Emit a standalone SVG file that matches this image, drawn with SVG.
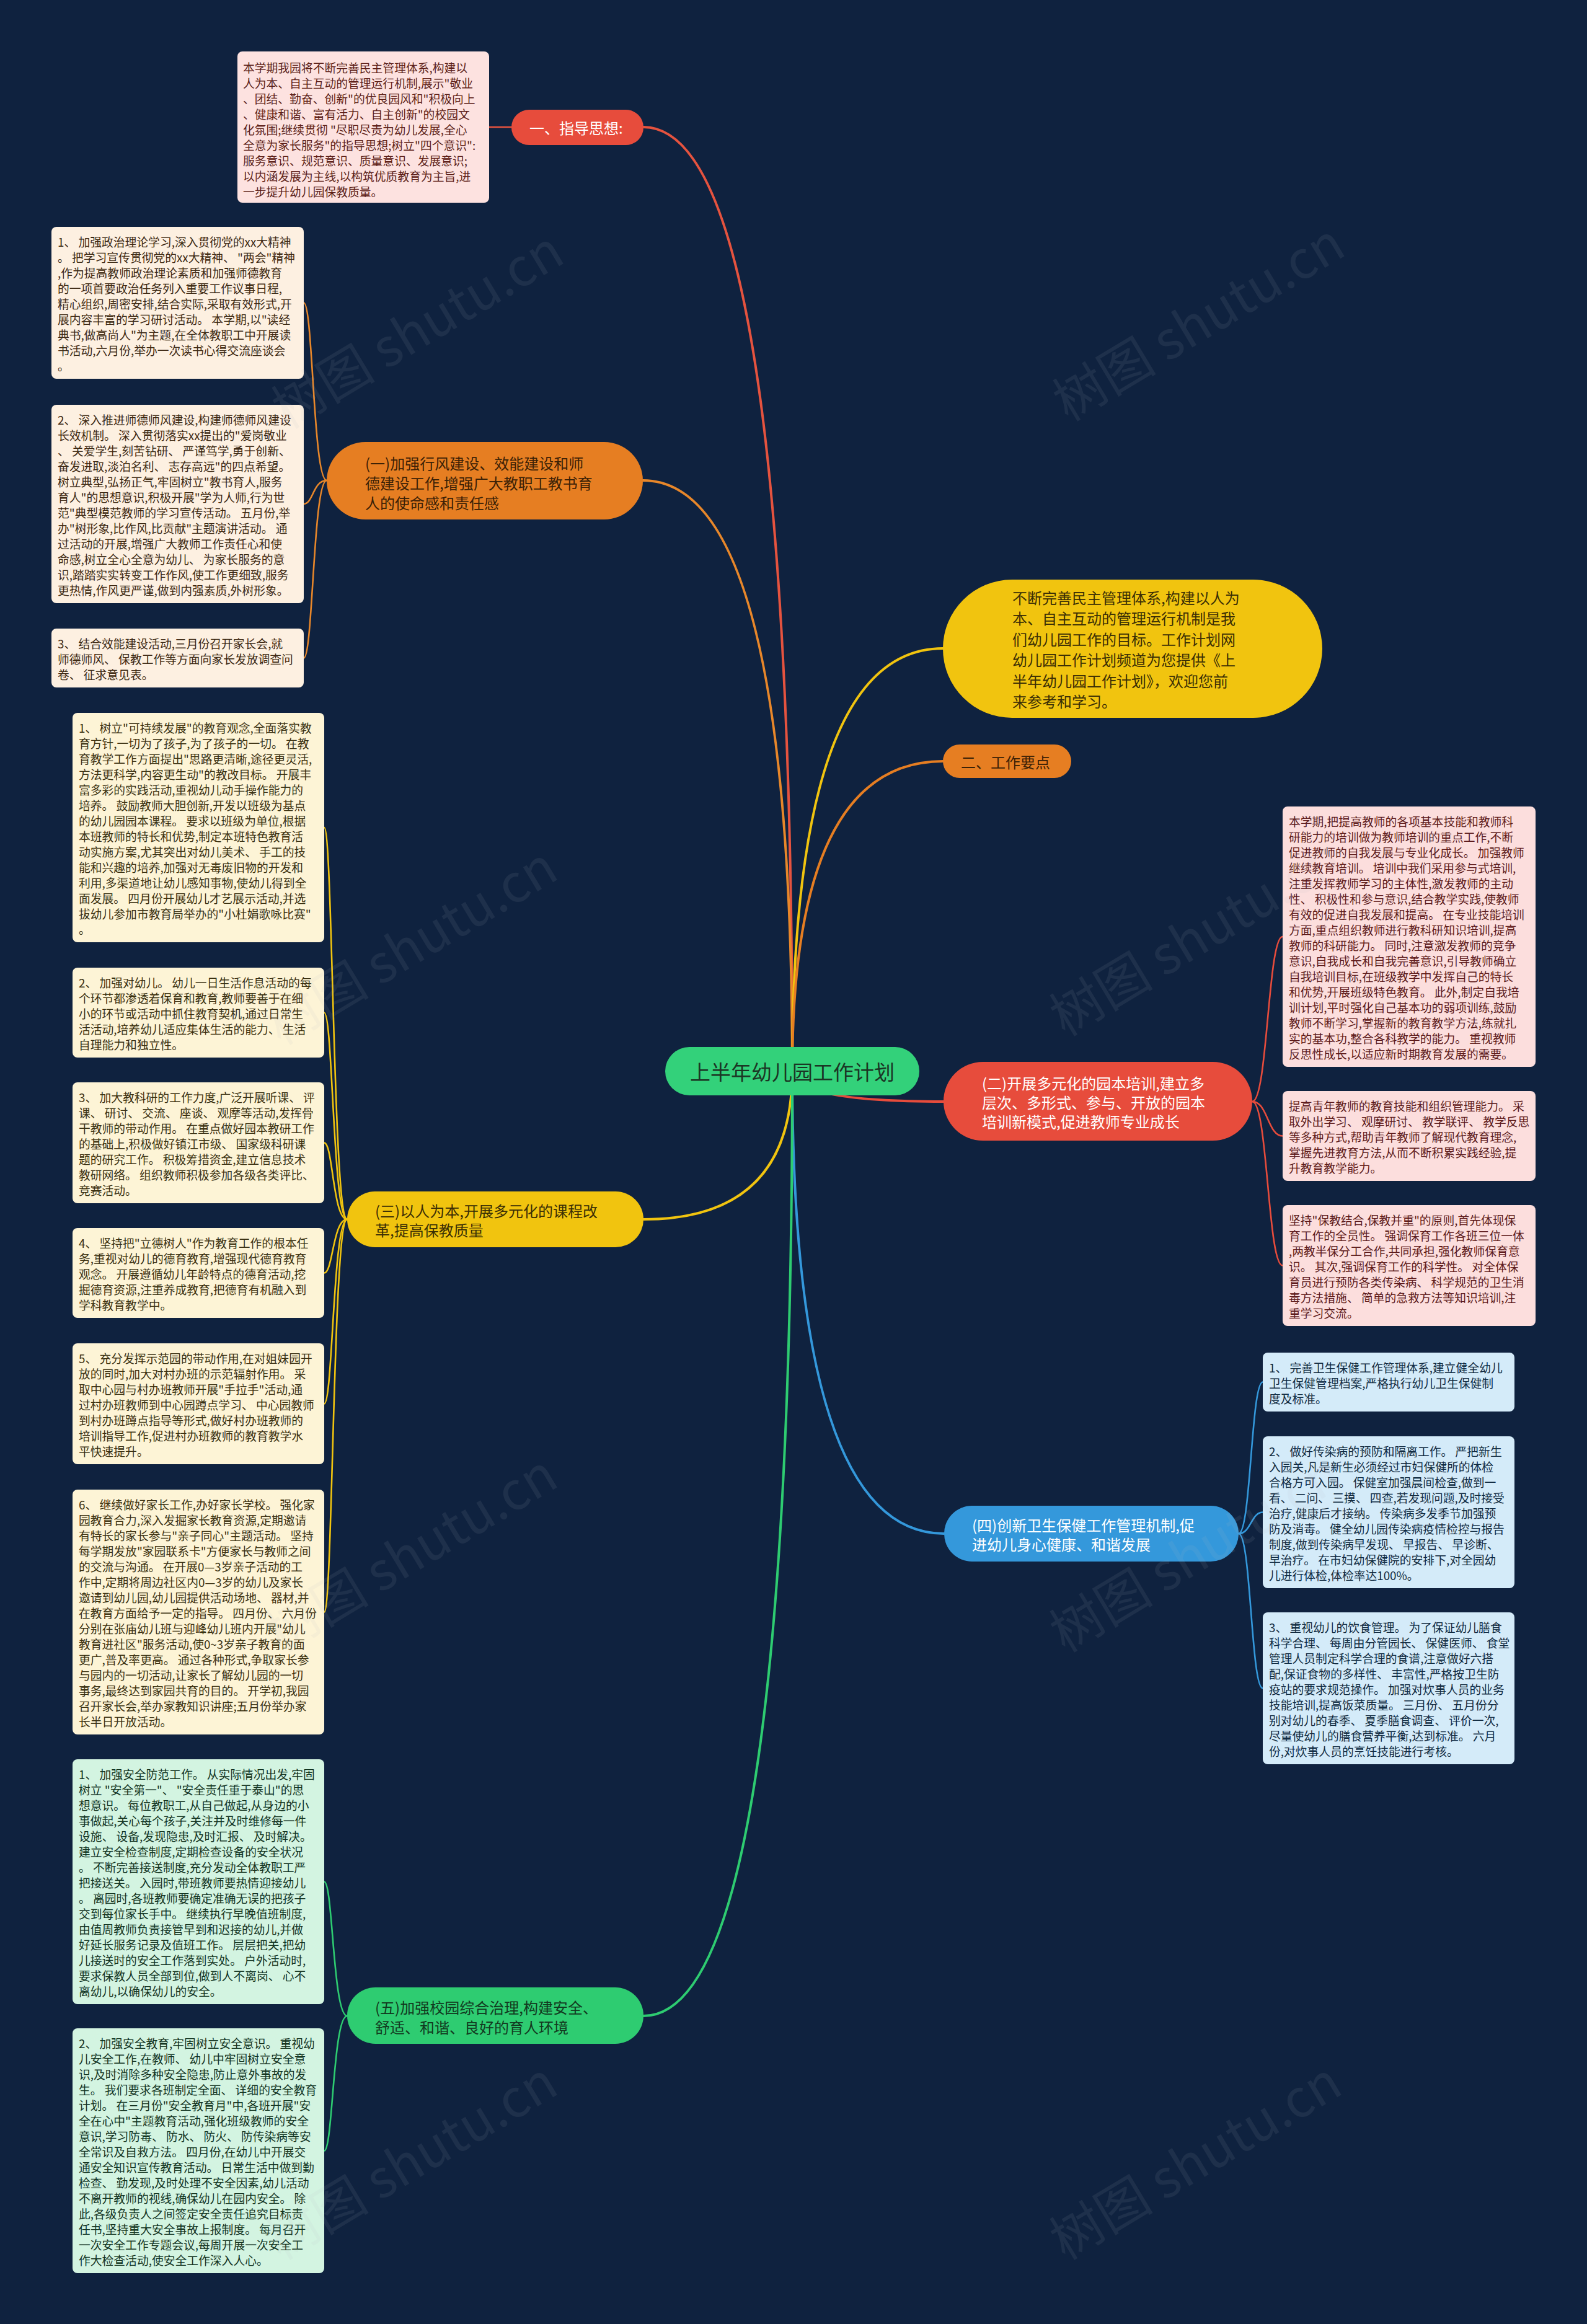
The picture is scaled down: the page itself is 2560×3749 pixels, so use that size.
<svg xmlns="http://www.w3.org/2000/svg" width="2560" height="3749" viewBox="0 0 2560 3749">
<style>
text{font-family:"Noto Sans CJK SC","Noto Sans",sans-serif;dominant-baseline:central}
.lf{font-size:18.8px}
.nd{font-size:24px}
.rt{font-size:33px}
.ln{fill:none;stroke-linecap:round}
.main{stroke-width:4}
.sub{stroke-width:2.6}
.wm{font-size:84px;fill:#b8bcc4;opacity:0.09}
</style>
<rect x="0" y="0" width="2560" height="3749" fill="#0f223f"/>

<g id="connectors">
  <path class="ln main" stroke="#e5533f" d="M1278 1728 Q1278 205 1038 205"/>
  <path class="ln main" stroke="#e8872a" d="M1278 1728 Q1278 775 1037 775"/>
  <path class="ln main" stroke="#f1c40f" d="M1278 1728 Q1278 1046 1521 1046"/>
  <path class="ln main" stroke="#e67e22" d="M1278 1728 Q1278 1228 1521 1228"/>
  <path class="ln main" stroke="#e74c3c" d="M1278 1728 Q1278 1777 1522 1777"/>
  <path class="ln main" stroke="#f1c40f" d="M1278 1728 Q1278 1967 1038 1967"/>
  <path class="ln main" stroke="#3498db" d="M1278 1728 Q1278 2474 1523 2474"/>
  <path class="ln main" stroke="#2ecc71" d="M1278 1728 Q1278 3252 1038 3252"/>

  <path class="ln sub" stroke="#e5533f" d="M825 205 L789 205"/>

  <path class="ln sub" stroke="#e8872a" d="M527 775 C505 775 505 488.5 490 488.5"/>
  <path class="ln sub" stroke="#e8872a" d="M527 775 C505 775 505 813 490 813"/>
  <path class="ln sub" stroke="#e8872a" d="M527 775 C505 775 505 1061.5 490 1061.5"/>

  <path class="ln sub" stroke="#e74c3c" d="M2020 1777 C2045 1777 2045 1511 2069 1511"/>
  <path class="ln sub" stroke="#e74c3c" d="M2020 1777 C2045 1777 2045 1832.5 2069 1832.5"/>
  <path class="ln sub" stroke="#e74c3c" d="M2020 1777 C2045 1777 2045 2041.5 2069 2041.5"/>

  <path class="ln sub" stroke="#f1c40f" d="M560 1967 C537 1967 537 1335 523 1335"/>
  <path class="ln sub" stroke="#f1c40f" d="M560 1967 C537 1967 537 1633.5 523 1633.5"/>
  <path class="ln sub" stroke="#f1c40f" d="M560 1967 C537 1967 537 1843.5 523 1843.5"/>
  <path class="ln sub" stroke="#f1c40f" d="M560 1967 C537 1967 537 2053.5 523 2053.5"/>
  <path class="ln sub" stroke="#f1c40f" d="M560 1967 C537 1967 537 2264.5 523 2264.5"/>
  <path class="ln sub" stroke="#f1c40f" d="M560 1967 C537 1967 537 2600.5 523 2600.5"/>

  <path class="ln sub" stroke="#3498db" d="M1998 2474 C2018 2474 2018 2229.5 2037 2229.5"/>
  <path class="ln sub" stroke="#3498db" d="M1998 2474 C2018 2474 2018 2439.5 2037 2439.5"/>
  <path class="ln sub" stroke="#3498db" d="M1998 2474 C2018 2474 2018 2723.5 2037 2723.5"/>

  <path class="ln sub" stroke="#2ecc71" d="M560 3252 C537 3252 537 3035.5 523 3035.5"/>
  <path class="ln sub" stroke="#2ecc71" d="M560 3252 C537 3252 537 3469.5 523 3469.5"/>
</g>

<g id="root">
  <rect x="1073" y="1689" width="410" height="78" rx="39" fill="#33d17a"/>
  <text class="rt" x="1278" y="1728" text-anchor="middle" fill="#1b3524">上半年幼儿园工作计划</text>
</g>

<g id="n-yi-zhidao">
  <rect x="825" y="177" width="213" height="57" rx="28.5" fill="#e74c3c"/>
  <text class="nd" x="854" y="205.5" fill="#ffffff">一、指导思想:</text>
</g>
<g id="leaf-zhidao">
  <rect x="383" y="83" width="406" height="244" rx="8" fill="#fde2e0"/>
  <text class="lf" x="392" y="108" fill="#5c1e17">
    <tspan x="392" dy="0">本学期我园将不断完善民主管理体系,构建以</tspan>
    <tspan x="392" dy="25">人为本、自主互动的管理运行机制,展示"敬业</tspan>
    <tspan x="392" dy="25">、团结、勤奋、创新"的优良园风和"积极向上</tspan>
    <tspan x="392" dy="25">、健康和谐、富有活力、自主创新"的校园文</tspan>
    <tspan x="392" dy="25">化氛围;继续贯彻 "尽职尽责为幼儿发展,全心</tspan>
    <tspan x="392" dy="25">全意为家长服务"的指导思想;树立"四个意识":</tspan>
    <tspan x="392" dy="25">服务意识、规范意识、质量意识、发展意识;</tspan>
    <tspan x="392" dy="25">以内涵发展为主线,以构筑优质教育为主旨,进</tspan>
    <tspan x="392" dy="25">一步提升幼儿园保教质量。</tspan>
  </text>
</g>

<g id="n-yi">
  <rect x="527" y="713" width="510" height="125" rx="62.5" fill="#e67e22"/>
  <text class="nd" x="589" y="746" fill="#3b2106">
    <tspan x="589" dy="0">(一)加强行风建设、效能建设和师</tspan>
    <tspan x="589" dy="32">德建设工作,增强广大教职工教书育</tspan>
    <tspan x="589" dy="32">人的使命感和责任感</tspan>
  </text>
</g>
<g id="leaf-yi-1">
  <rect x="83" y="366" width="407" height="245" rx="8" fill="#fdf0e1"/>
  <text class="lf" x="93" y="388.5" fill="#3c2812">
    <tspan x="93" dy="0">1、 加强政治理论学习,深入贯彻党的xx大精神</tspan>
    <tspan x="93" dy="25">。 把学习宣传贯彻党的xx大精神、 "两会"精神</tspan>
    <tspan x="93" dy="25">,作为提高教师政治理论素质和加强师德教育</tspan>
    <tspan x="93" dy="25">的一项首要政治任务列入重要工作议事日程,</tspan>
    <tspan x="93" dy="25">精心组织,周密安排,结合实际,采取有效形式,开</tspan>
    <tspan x="93" dy="25">展内容丰富的学习研讨活动。 本学期,以"读经</tspan>
    <tspan x="93" dy="25">典书,做高尚人"为主题,在全体教职工中开展读</tspan>
    <tspan x="93" dy="25">书活动,六月份,举办一次读书心得交流座谈会</tspan>
    <tspan x="93" dy="25">。</tspan>
  </text>
</g>
<g id="leaf-yi-2">
  <rect x="83" y="653" width="407" height="320" rx="8" fill="#fdf0e1"/>
  <text class="lf" x="93" y="675.5" fill="#3c2812">
    <tspan x="93" dy="0">2、 深入推进师德师风建设,构建师德师风建设</tspan>
    <tspan x="93" dy="25">长效机制。 深入贯彻落实xx提出的"爱岗敬业</tspan>
    <tspan x="93" dy="25">、 关爱学生,刻苦钻研、 严谨笃学,勇于创新、</tspan>
    <tspan x="93" dy="25">奋发进取,淡泊名利、 志存高远"的四点希望。</tspan>
    <tspan x="93" dy="25">树立典型,弘扬正气,牢固树立"教书育人,服务</tspan>
    <tspan x="93" dy="25">育人"的思想意识,积极开展"学为人师,行为世</tspan>
    <tspan x="93" dy="25">范"典型模范教师的学习宣传活动。 五月份,举</tspan>
    <tspan x="93" dy="25">办"树形象,比作风,比贡献"主题演讲活动。 通</tspan>
    <tspan x="93" dy="25">过活动的开展,增强广大教师工作责任心和使</tspan>
    <tspan x="93" dy="25">命感,树立全心全意为幼儿、 为家长服务的意</tspan>
    <tspan x="93" dy="25">识,踏踏实实转变工作作风,使工作更细致,服务</tspan>
    <tspan x="93" dy="25">更热情,作风更严谨,做到内强素质,外树形象。</tspan>
  </text>
</g>
<g id="leaf-yi-3">
  <rect x="83" y="1014" width="407" height="95" rx="8" fill="#fdf0e1"/>
  <text class="lf" x="93" y="1036.5" fill="#3c2812">
    <tspan x="93" dy="0">3、 结合效能建设活动,三月份召开家长会,就</tspan>
    <tspan x="93" dy="25">师德师风、 保教工作等方面向家长发放调查问</tspan>
    <tspan x="93" dy="25">卷、 征求意见表。</tspan>
  </text>
</g>

<g id="n-intro">
  <rect x="1521" y="935" width="612" height="223" rx="111.5" fill="#f1c40f"/>
  <text class="nd" x="1633" y="963" fill="#3a2e05">
    <tspan x="1633" dy="0">不断完善民主管理体系,构建以人为</tspan>
    <tspan x="1633" dy="33.4">本、自主互动的管理运行机制是我</tspan>
    <tspan x="1633" dy="33.4">们幼儿园工作的目标。工作计划网</tspan>
    <tspan x="1633" dy="33.4">幼儿园工作计划频道为您提供《上</tspan>
    <tspan x="1633" dy="33.4">半年幼儿园工作计划》，欢迎您前</tspan>
    <tspan x="1633" dy="33.4">来参考和学习。</tspan>
  </text>
</g>

<g id="n-er-yaodian">
  <rect x="1521" y="1201" width="207" height="54" rx="27" fill="#e67e22"/>
  <text class="nd" x="1550" y="1228" fill="#3b2106">二、工作要点</text>
</g>

<g id="n-er">
  <rect x="1522" y="1713" width="498" height="127" rx="63.5" fill="#e74c3c"/>
  <text class="nd" x="1584" y="1746" fill="#ffffff">
    <tspan x="1584" dy="0">(二)开展多元化的园本培训,建立多</tspan>
    <tspan x="1584" dy="31">层次、多形式、参与、开放的园本</tspan>
    <tspan x="1584" dy="31">培训新模式,促进教师专业成长</tspan>
  </text>
</g>
<g id="leaf-er-1">
  <rect x="2069" y="1301" width="408" height="420" rx="8" fill="#fcdedd"/>
  <text class="lf" x="2079" y="1323.5" fill="#5c1a1a">
    <tspan x="2079" dy="0">本学期,把提高教师的各项基本技能和教师科</tspan>
    <tspan x="2079" dy="25">研能力的培训做为教师培训的重点工作,不断</tspan>
    <tspan x="2079" dy="25">促进教师的自我发展与专业化成长。 加强教师</tspan>
    <tspan x="2079" dy="25">继续教育培训。 培训中我们采用参与式培训,</tspan>
    <tspan x="2079" dy="25">注重发挥教师学习的主体性,激发教师的主动</tspan>
    <tspan x="2079" dy="25">性、 积极性和参与意识,结合教学实践,使教师</tspan>
    <tspan x="2079" dy="25">有效的促进自我发展和提高。 在专业技能培训</tspan>
    <tspan x="2079" dy="25">方面,重点组织教师进行教科研知识培训,提高</tspan>
    <tspan x="2079" dy="25">教师的科研能力。 同时,注意激发教师的竞争</tspan>
    <tspan x="2079" dy="25">意识,自我成长和自我完善意识,引导教师确立</tspan>
    <tspan x="2079" dy="25">自我培训目标,在班级教学中发挥自己的特长</tspan>
    <tspan x="2079" dy="25">和优势,开展班级特色教育。 此外,制定自我培</tspan>
    <tspan x="2079" dy="25">训计划,平时强化自己基本功的弱项训练,鼓励</tspan>
    <tspan x="2079" dy="25">教师不断学习,掌握新的教育教学方法,练就扎</tspan>
    <tspan x="2079" dy="25">实的基本功,整合各科教学的能力。 重视教师</tspan>
    <tspan x="2079" dy="25">反思性成长,以适应新时期教育发展的需要。</tspan>
  </text>
</g>
<g id="leaf-er-2">
  <rect x="2069" y="1760" width="408" height="145" rx="8" fill="#fcdedd"/>
  <text class="lf" x="2079" y="1782.5" fill="#5c1a1a">
    <tspan x="2079" dy="0">提高青年教师的教育技能和组织管理能力。 采</tspan>
    <tspan x="2079" dy="25">取外出学习、 观摩研讨、 教学联评、 教学反思</tspan>
    <tspan x="2079" dy="25">等多种方式,帮助青年教师了解现代教育理念,</tspan>
    <tspan x="2079" dy="25">掌握先进教育方法,从而不断积累实践经验,提</tspan>
    <tspan x="2079" dy="25">升教育教学能力。</tspan>
  </text>
</g>
<g id="leaf-er-3">
  <rect x="2069" y="1944" width="408" height="195" rx="8" fill="#fcdedd"/>
  <text class="lf" x="2079" y="1966.5" fill="#5c1a1a">
    <tspan x="2079" dy="0">坚持"保教结合,保教并重"的原则,首先体现保</tspan>
    <tspan x="2079" dy="25">育工作的全员性。 强调保育工作各班三位一体</tspan>
    <tspan x="2079" dy="25">,两教半保分工合作,共同承担,强化教师保育意</tspan>
    <tspan x="2079" dy="25">识。 其次,强调保育工作的科学性。 对全体保</tspan>
    <tspan x="2079" dy="25">育员进行预防各类传染病、 科学规范的卫生消</tspan>
    <tspan x="2079" dy="25">毒方法措施、 简单的急救方法等知识培训,注</tspan>
    <tspan x="2079" dy="25">重学习交流。</tspan>
  </text>
</g>

<g id="n-san">
  <rect x="560" y="1922" width="478" height="90" rx="45" fill="#f1c40f"/>
  <text class="nd" x="605" y="1951.5" fill="#3a2e05">
    <tspan x="605" dy="0">(三)以人为本,开展多元化的课程改</tspan>
    <tspan x="605" dy="31">革,提高保教质量</tspan>
  </text>
</g>
<g id="leaf-san-1">
  <rect x="117" y="1150" width="406" height="370" rx="8" fill="#fdf4d6"/>
  <text class="lf" x="127" y="1172.5" fill="#3a3010">
    <tspan x="127" dy="0">1、 树立"可持续发展"的教育观念,全面落实教</tspan>
    <tspan x="127" dy="25">育方针,一切为了孩子,为了孩子的一切。 在教</tspan>
    <tspan x="127" dy="25">育教学工作方面提出"思路更清晰,途径更灵活,</tspan>
    <tspan x="127" dy="25">方法更科学,内容更生动"的教改目标。 开展丰</tspan>
    <tspan x="127" dy="25">富多彩的实践活动,重视幼儿动手操作能力的</tspan>
    <tspan x="127" dy="25">培养。 鼓励教师大胆创新,开发以班级为基点</tspan>
    <tspan x="127" dy="25">的幼儿园园本课程。 要求以班级为单位,根据</tspan>
    <tspan x="127" dy="25">本班教师的特长和优势,制定本班特色教育活</tspan>
    <tspan x="127" dy="25">动实施方案,尤其突出对幼儿美术、 手工的技</tspan>
    <tspan x="127" dy="25">能和兴趣的培养,加强对无毒废旧物的开发和</tspan>
    <tspan x="127" dy="25">利用,多渠道地让幼儿感知事物,使幼儿得到全</tspan>
    <tspan x="127" dy="25">面发展。 四月份开展幼儿才艺展示活动,并选</tspan>
    <tspan x="127" dy="25">拔幼儿参加市教育局举办的"小杜娟歌咏比赛"</tspan>
    <tspan x="127" dy="25">。</tspan>
  </text>
</g>
<g id="leaf-san-2">
  <rect x="117" y="1561" width="406" height="145" rx="8" fill="#fdf4d6"/>
  <text class="lf" x="127" y="1583.5" fill="#3a3010">
    <tspan x="127" dy="0">2、 加强对幼儿。 幼儿一日生活作息活动的每</tspan>
    <tspan x="127" dy="25">个环节都渗透着保育和教育,教师要善于在细</tspan>
    <tspan x="127" dy="25">小的环节或活动中抓住教育契机,通过日常生</tspan>
    <tspan x="127" dy="25">活活动,培养幼儿适应集体生活的能力、 生活</tspan>
    <tspan x="127" dy="25">自理能力和独立性。</tspan>
  </text>
</g>
<g id="leaf-san-3">
  <rect x="117" y="1746" width="406" height="195" rx="8" fill="#fdf4d6"/>
  <text class="lf" x="127" y="1768.5" fill="#3a3010">
    <tspan x="127" dy="0">3、 加大教科研的工作力度,广泛开展听课、 评</tspan>
    <tspan x="127" dy="25">课、 研讨、 交流、 座谈、 观摩等活动,发挥骨</tspan>
    <tspan x="127" dy="25">干教师的带动作用。 在重点做好园本教研工作</tspan>
    <tspan x="127" dy="25">的基础上,积极做好镇江市级、 国家级科研课</tspan>
    <tspan x="127" dy="25">题的研究工作。 积极筹措资金,建立信息技术</tspan>
    <tspan x="127" dy="25">教研网络。 组织教师积极参加各级各类评比、</tspan>
    <tspan x="127" dy="25">竞赛活动。</tspan>
  </text>
</g>
<g id="leaf-san-4">
  <rect x="117" y="1981" width="406" height="145" rx="8" fill="#fdf4d6"/>
  <text class="lf" x="127" y="2003.5" fill="#3a3010">
    <tspan x="127" dy="0">4、 坚持把"立德树人"作为教育工作的根本任</tspan>
    <tspan x="127" dy="25">务,重视对幼儿的德育教育,增强现代德育教育</tspan>
    <tspan x="127" dy="25">观念。 开展遵循幼儿年龄特点的德育活动,挖</tspan>
    <tspan x="127" dy="25">掘德育资源,注重养成教育,把德育有机融入到</tspan>
    <tspan x="127" dy="25">学科教育教学中。</tspan>
  </text>
</g>
<g id="leaf-san-5">
  <rect x="117" y="2167" width="406" height="195" rx="8" fill="#fdf4d6"/>
  <text class="lf" x="127" y="2189.5" fill="#3a3010">
    <tspan x="127" dy="0">5、 充分发挥示范园的带动作用,在对姐妹园开</tspan>
    <tspan x="127" dy="25">放的同时,加大对村办班的示范辐射作用。 采</tspan>
    <tspan x="127" dy="25">取中心园与村办班教师开展"手拉手"活动,通</tspan>
    <tspan x="127" dy="25">过村办班教师到中心园蹲点学习、 中心园教师</tspan>
    <tspan x="127" dy="25">到村办班蹲点指导等形式,做好村办班教师的</tspan>
    <tspan x="127" dy="25">培训指导工作,促进村办班教师的教育教学水</tspan>
    <tspan x="127" dy="25">平快速提升。</tspan>
  </text>
</g>
<g id="leaf-san-6">
  <rect x="117" y="2403" width="406" height="395" rx="8" fill="#fdf4d6"/>
  <text class="lf" x="127" y="2425.5" fill="#3a3010">
    <tspan x="127" dy="0">6、 继续做好家长工作,办好家长学校。 强化家</tspan>
    <tspan x="127" dy="25">园教育合力,深入发掘家长教育资源,定期邀请</tspan>
    <tspan x="127" dy="25">有特长的家长参与"亲子同心"主题活动。 坚持</tspan>
    <tspan x="127" dy="25">每学期发放"家园联系卡"方便家长与教师之间</tspan>
    <tspan x="127" dy="25">的交流与沟通。 在开展0—3岁亲子活动的工</tspan>
    <tspan x="127" dy="25">作中,定期将周边社区内0—3岁的幼儿及家长</tspan>
    <tspan x="127" dy="25">邀请到幼儿园,幼儿园提供活动场地、 器材,并</tspan>
    <tspan x="127" dy="25">在教育方面给予一定的指导。 四月份、 六月份</tspan>
    <tspan x="127" dy="25">分别在张庙幼儿班与迎峰幼儿班内开展"幼儿</tspan>
    <tspan x="127" dy="25">教育进社区"服务活动,使0~3岁亲子教育的面</tspan>
    <tspan x="127" dy="25">更广,普及率更高。 通过各种形式,争取家长参</tspan>
    <tspan x="127" dy="25">与园内的一切活动,让家长了解幼儿园的一切</tspan>
    <tspan x="127" dy="25">事务,最终达到家园共育的目的。 开学初,我园</tspan>
    <tspan x="127" dy="25">召开家长会,举办家教知识讲座;五月份举办家</tspan>
    <tspan x="127" dy="25">长半日开放活动。</tspan>
  </text>
</g>

<g id="n-si">
  <rect x="1523" y="2429" width="475" height="90" rx="45" fill="#3498db"/>
  <text class="nd" x="1568" y="2458.5" fill="#ffffff">
    <tspan x="1568" dy="0">(四)创新卫生保健工作管理机制,促</tspan>
    <tspan x="1568" dy="31">进幼儿身心健康、和谐发展</tspan>
  </text>
</g>
<g id="leaf-si-1">
  <rect x="2037" y="2182" width="406" height="95" rx="8" fill="#d4ebf9"/>
  <text class="lf" x="2047" y="2204.5" fill="#102a40">
    <tspan x="2047" dy="0">1、 完善卫生保健工作管理体系,建立健全幼儿</tspan>
    <tspan x="2047" dy="25">卫生保健管理档案,严格执行幼儿卫生保健制</tspan>
    <tspan x="2047" dy="25">度及标准。</tspan>
  </text>
</g>
<g id="leaf-si-2">
  <rect x="2037" y="2317" width="406" height="245" rx="8" fill="#d4ebf9"/>
  <text class="lf" x="2047" y="2339.5" fill="#102a40">
    <tspan x="2047" dy="0">2、 做好传染病的预防和隔离工作。 严把新生</tspan>
    <tspan x="2047" dy="25">入园关,凡是新生必须经过市妇保健所的体检</tspan>
    <tspan x="2047" dy="25">合格方可入园。 保健室加强晨间检查,做到一</tspan>
    <tspan x="2047" dy="25">看、 二问、 三摸、 四查,若发现问题,及时接受</tspan>
    <tspan x="2047" dy="25">治疗,健康后才接纳。 传染病多发季节加强预</tspan>
    <tspan x="2047" dy="25">防及消毒。 健全幼儿园传染病疫情检控与报告</tspan>
    <tspan x="2047" dy="25">制度,做到传染病早发现、 早报告、 早诊断、</tspan>
    <tspan x="2047" dy="25">早治疗。 在市妇幼保健院的安排下,对全园幼</tspan>
    <tspan x="2047" dy="25">儿进行体检,体检率达100%。</tspan>
  </text>
</g>
<g id="leaf-si-3">
  <rect x="2037" y="2601" width="406" height="245" rx="8" fill="#d4ebf9"/>
  <text class="lf" x="2047" y="2623.5" fill="#102a40">
    <tspan x="2047" dy="0">3、 重视幼儿的饮食管理。 为了保证幼儿膳食</tspan>
    <tspan x="2047" dy="25">科学合理、 每周由分管园长、 保健医师、 食堂</tspan>
    <tspan x="2047" dy="25">管理人员制定科学合理的食谱,注意做好六搭</tspan>
    <tspan x="2047" dy="25">配,保证食物的多样性、 丰富性,严格按卫生防</tspan>
    <tspan x="2047" dy="25">疫站的要求规范操作。 加强对炊事人员的业务</tspan>
    <tspan x="2047" dy="25">技能培训,提高饭菜质量。 三月份、 五月份分</tspan>
    <tspan x="2047" dy="25">别对幼儿的春季、 夏季膳食调查、 评价一次,</tspan>
    <tspan x="2047" dy="25">尽量使幼儿的膳食营养平衡,达到标准。 六月</tspan>
    <tspan x="2047" dy="25">份,对炊事人员的烹饪技能进行考核。</tspan>
  </text>
</g>

<g id="n-wu">
  <rect x="560" y="3206" width="478" height="91" rx="45.5" fill="#2ecc71"/>
  <text class="nd" x="605" y="3236.5" fill="#123a20">
    <tspan x="605" dy="0">(五)加强校园综合治理,构建安全、</tspan>
    <tspan x="605" dy="32">舒适、和谐、良好的育人环境</tspan>
  </text>
</g>
<g id="leaf-wu-1">
  <rect x="117" y="2838" width="406" height="395" rx="8" fill="#d3f4e1"/>
  <text class="lf" x="127" y="2860.5" fill="#12331f">
    <tspan x="127" dy="0">1、 加强安全防范工作。 从实际情况出发,牢固</tspan>
    <tspan x="127" dy="25">树立 "安全第一"、 "安全责任重于泰山"的思</tspan>
    <tspan x="127" dy="25">想意识。 每位教职工,从自己做起,从身边的小</tspan>
    <tspan x="127" dy="25">事做起,关心每个孩子,关注并及时维修每一件</tspan>
    <tspan x="127" dy="25">设施、 设备,发现隐患,及时汇报、 及时解决。</tspan>
    <tspan x="127" dy="25">建立安全检查制度,定期检查设备的安全状况</tspan>
    <tspan x="127" dy="25">。 不断完善接送制度,充分发动全体教职工严</tspan>
    <tspan x="127" dy="25">把接送关。 入园时,带班教师要热情迎接幼儿</tspan>
    <tspan x="127" dy="25">。 离园时,各班教师要确定准确无误的把孩子</tspan>
    <tspan x="127" dy="25">交到每位家长手中。 继续执行早晚值班制度,</tspan>
    <tspan x="127" dy="25">由值周教师负责接管早到和迟接的幼儿,并做</tspan>
    <tspan x="127" dy="25">好延长服务记录及值班工作。 层层把关,把幼</tspan>
    <tspan x="127" dy="25">儿接送时的安全工作落到实处。 户外活动时,</tspan>
    <tspan x="127" dy="25">要求保教人员全部到位,做到人不离岗、 心不</tspan>
    <tspan x="127" dy="25">离幼儿,以确保幼儿的安全。</tspan>
  </text>
</g>
<g id="leaf-wu-2">
  <rect x="117" y="3272" width="406" height="395" rx="8" fill="#d3f4e1"/>
  <text class="lf" x="127" y="3294.5" fill="#12331f">
    <tspan x="127" dy="0">2、 加强安全教育,牢固树立安全意识。 重视幼</tspan>
    <tspan x="127" dy="25">儿安全工作,在教师、 幼儿中牢固树立安全意</tspan>
    <tspan x="127" dy="25">识,及时消除多种安全隐患,防止意外事故的发</tspan>
    <tspan x="127" dy="25">生。 我们要求各班制定全面、 详细的安全教育</tspan>
    <tspan x="127" dy="25">计划。 在三月份"安全教育月"中,各班开展"安</tspan>
    <tspan x="127" dy="25">全在心中"主题教育活动,强化班级教师的安全</tspan>
    <tspan x="127" dy="25">意识,学习防毒、 防水、 防火、 防传染病等安</tspan>
    <tspan x="127" dy="25">全常识及自救方法。 四月份,在幼儿中开展交</tspan>
    <tspan x="127" dy="25">通安全知识宣传教育活动。 日常生活中做到勤</tspan>
    <tspan x="127" dy="25">检查、 勤发现,及时处理不安全因素,幼儿活动</tspan>
    <tspan x="127" dy="25">不离开教师的视线,确保幼儿在园内安全。 除</tspan>
    <tspan x="127" dy="25">此,各级负责人之间签定安全责任追究目标责</tspan>
    <tspan x="127" dy="25">任书,坚持重大安全事故上报制度。 每月召开</tspan>
    <tspan x="127" dy="25">一次安全工作专题会议,每周开展一次安全工</tspan>
    <tspan x="127" dy="25">作大检查活动,使安全工作深入人心。</tspan>
  </text>
</g>

<g id="watermarks">
  <text class="wm" x="670" y="526" text-anchor="middle" transform="rotate(-31 670 526)">树图 shutu.cn</text>
  <text class="wm" x="1930" y="514" text-anchor="middle" transform="rotate(-31 1930 514)">树图 shutu.cn</text>
  <text class="wm" x="660" y="1520" text-anchor="middle" transform="rotate(-31 660 1520)">树图 shutu.cn</text>
  <text class="wm" x="1925" y="1506" text-anchor="middle" transform="rotate(-31 1925 1506)">树图 shutu.cn</text>
  <text class="wm" x="660" y="2500" text-anchor="middle" transform="rotate(-31 660 2500)">树图 shutu.cn</text>
  <text class="wm" x="1925" y="2500" text-anchor="middle" transform="rotate(-31 1925 2500)">树图 shutu.cn</text>
  <text class="wm" x="660" y="3480" text-anchor="middle" transform="rotate(-31 660 3480)">树图 shutu.cn</text>
  <text class="wm" x="1925" y="3480" text-anchor="middle" transform="rotate(-31 1925 3480)">树图 shutu.cn</text>
</g>
</svg>
